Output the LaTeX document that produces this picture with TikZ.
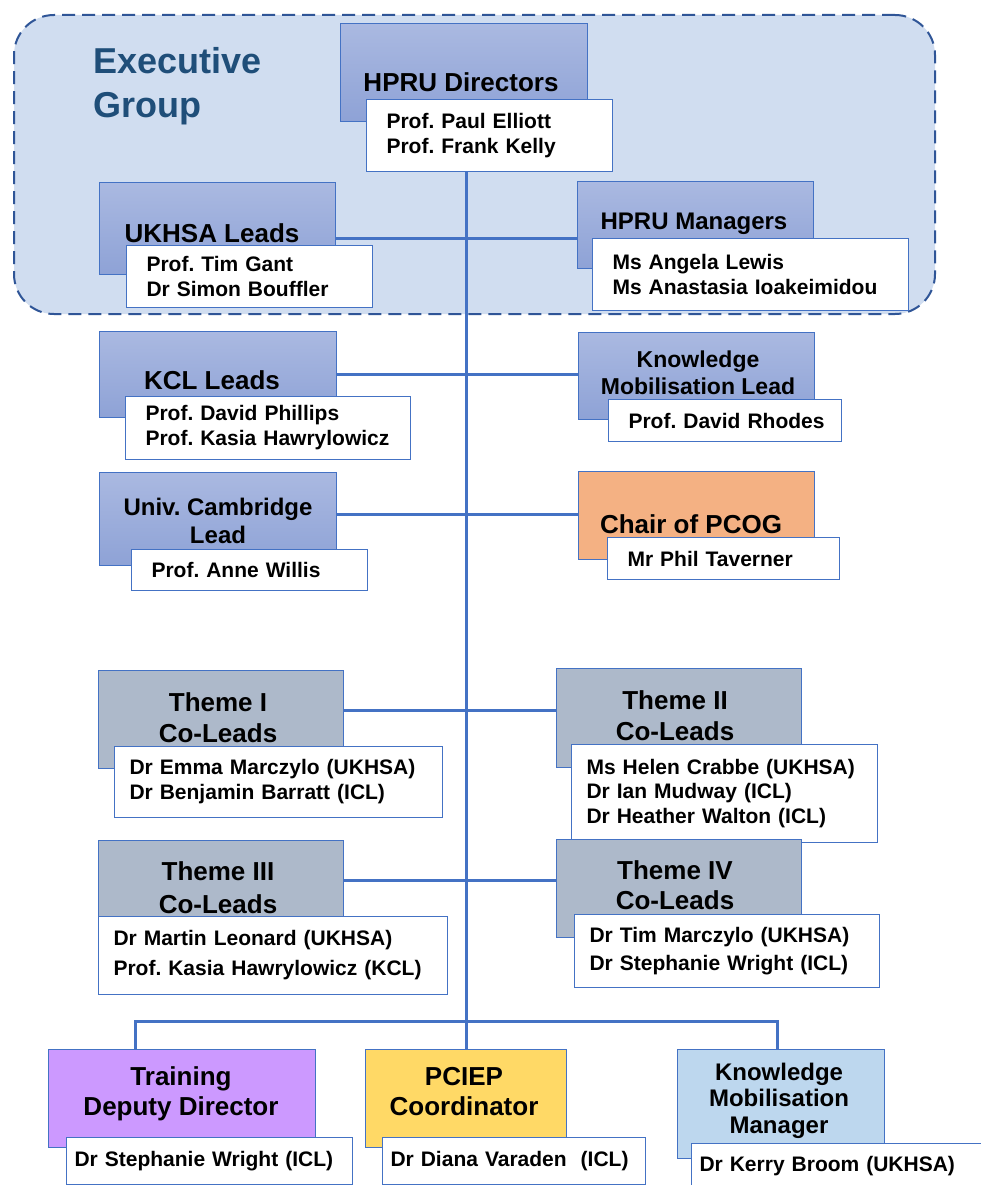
\documentclass[tikz,border=0pt]{standalone}
\usepackage{fontspec}
\setmainfont{Liberation Sans}
\usepackage{tikz}
\frenchspacing

\definecolor{linkblue}{RGB}{68,114,196}
\definecolor{dashblue}{RGB}{47,85,151}
\definecolor{execfill}{RGB}{208,221,240}
\definecolor{exectext}{RGB}{31,78,121}
\definecolor{hdrtop}{RGB}{170,185,225}
\definecolor{hdrbot}{RGB}{142,162,214}
\definecolor{themegrey}{RGB}{173,185,202}
\definecolor{pcogorange}{RGB}{244,177,131}
\definecolor{trainpurple}{RGB}{204,153,255}
\definecolor{pciyellow}{RGB}{255,217,102}
\definecolor{kmmblue}{RGB}{189,215,238}

\tikzset{
  hdr/.style={draw=linkblue, line width=1pt, anchor=north west, inner sep=0pt},
  lead/.style={hdr, top color=hdrtop, bottom color=hdrbot},
  names/.style={draw=linkblue, line width=1pt, fill=white, anchor=north west,
    align=left, inner xsep=20pt, inner ysep=0pt,
    font=\fontsize{21}{25}\selectfont\bfseries},
  ttl/.style={anchor=base, align=center, inner sep=0pt,
    font=\fontsize{26}{31}\selectfont\bfseries},
  link/.style={draw=linkblue, line width=3pt},
}

\begin{document}
\begin{tikzpicture}[x=1pt,y=-1pt]
  \clip (0,0) rectangle (981,1185);
  \fill[white] (0,0) rectangle (981,1185);
  % executive group
  \node[draw=dashblue, line width=2pt, dash pattern=on 13pt off 7pt, fill=execfill,
    rounded corners=40pt, minimum width=921pt, minimum height=299pt,
    anchor=north west, inner sep=0pt] (exec) at (13,14) {};
  \node[anchor=base west, align=left, inner sep=0pt, text=exectext,
    font=\fontsize{36}{44}\selectfont\bfseries] (execT) at (93,118) {Executive\\Group};

  \node[lead, minimum width=247pt, minimum height=98pt] (dir) at (340,23) {};
  \node[ttl] (dirT) at (461,92) {HPRU Directors};
  \node[names, text width=206pt, minimum height=72pt] (dirN) at (366,99)
    {Prof. Paul Elliott\\Prof. Frank Kelly};

  \node[lead, minimum width=236pt, minimum height=92pt] (uk) at (99,182) {};
  \node[ttl] (ukT) at (212,242) {UKHSA Leads};
  \node[names, text width=206pt, minimum height=62pt] (ukN) at (126,245)
    {Prof. Tim Gant\\Dr Simon Bouffler};

  \node[lead, minimum width=236pt, minimum height=87pt] (mgr) at (577,181) {};
  \node[ttl, font=\fontsize{24}{28}\selectfont\bfseries] (mgrT) at (694,229) {HPRU Managers};
  \node[names, text width=276pt, minimum height=72pt] (mgrN) at (592,238)
    {Ms Angela Lewis\\Ms Anastasia Ioakeimidou};

  \node[lead, minimum width=237pt, minimum height=86pt] (kcl) at (99,331) {};
  \node[ttl] (kclT) at (212,389) {KCL Leads};
  \node[names, text width=245pt, minimum height=63pt] (kclN) at (125,396)
    {Prof. David Phillips\\Prof. Kasia Hawrylowicz};

  \node[lead, minimum width=236pt, minimum height=87pt] (kml) at (578,332) {};
  \node[ttl, font=\fontsize{23}{27}\selectfont\bfseries] (kmlT) at (698,394)
    {Knowledge\\Mobilisation Lead};
  \node[names, text width=193pt, minimum height=42pt] (kmlN) at (608,399)
    {\mbox{Prof. David Rhodes}};

  \node[lead, minimum width=237pt, minimum height=93pt] (cam) at (99,472) {};
  \node[ttl, font=\fontsize{24}{28}\selectfont\bfseries] (camT) at (218,543)
    {Univ. Cambridge\\Lead};
  \node[names, text width=196pt, minimum height=41pt] (camN) at (131,549)
    {Prof. Anne Willis};

  \node[hdr, fill=pcogorange, minimum width=236pt, minimum height=88pt] (pcog) at (578,471) {};
  \node[ttl] (pcogT) at (691,533) {Chair of PCOG};
  \node[names, text width=192pt, minimum height=42pt] (pcogN) at (607,537)
    {Mr Phil Taverner};

  % themes
  \node[hdr, fill=themegrey, minimum width=245pt, minimum height=98pt] (t1) at (98,670) {};
  \node[ttl] (t1T) at (218,742) {Theme I\\Co-Leads};
  \node[names, inner xsep=15pt, text width=298pt, minimum height=71pt] (t1N) at (114,746)
    {Dr Emma Marczylo (UKHSA)\\Dr Benjamin Barratt (ICL)};

  \node[hdr, fill=themegrey, minimum width=245pt, minimum height=99pt] (t2) at (556,668) {};
  \node[ttl] (t2T) at (675,740) {Theme II\\Co-Leads};
  \node[names, inner xsep=15pt, text width=276pt, minimum height=98pt,
    font=\fontsize{21}{24.5}\selectfont\bfseries] (t2N) at (571,744)
    {Ms Helen Crabbe (UKHSA)\\Dr Ian Mudway (ICL)\\Dr Heather Walton (ICL)};

  \node[hdr, fill=themegrey, minimum width=245pt, minimum height=77pt] (t3) at (98,840) {};
  \node[ttl, font=\fontsize{26}{33}\selectfont\bfseries] (t3T) at (218,913) {Theme III\\Co-Leads};
  \node[names, inner xsep=15pt, text width=319pt, minimum height=78pt,
    font=\fontsize{21}{30}\selectfont\bfseries] (t3N) at (98,916)
    {Dr Martin Leonard (UKHSA)\\Prof. Kasia Hawrylowicz (KCL)};

  \node[hdr, fill=themegrey, minimum width=245pt, minimum height=98pt] (t4) at (556,839) {};
  \node[ttl, font=\fontsize{26}{30}\selectfont\bfseries] (t4T) at (675,909) {Theme IV\\Co-Leads};
  \node[names, inner xsep=15pt, text width=275pt, minimum height=73pt,
    font=\fontsize{21}{28}\selectfont\bfseries] (t4N) at (574,914)
    {Dr Tim Marczylo (UKHSA)\\Dr Stephanie Wright (ICL)};

  % bottom row
  \node[hdr, fill=trainpurple, minimum width=267pt, minimum height=98pt] (trn) at (48,1049) {};
  \node[ttl, font=\fontsize{26}{30}\selectfont\bfseries] (trnT) at (181,1115)
    {Training\\Deputy Director};
  \node[names, inner xsep=8pt, text width=270pt, minimum height=47pt] (trnN) at (66,1137)
    {Dr Stephanie Wright (ICL)};

  \node[hdr, fill=pciyellow, minimum width=201pt, minimum height=98pt] (pci) at (365,1049) {};
  \node[ttl, font=\fontsize{26}{30}\selectfont\bfseries] (pciT) at (464,1115)
    {PCIEP\\Coordinator};
  \node[names, inner xsep=8pt, text width=247pt, minimum height=47pt] (pciN) at (382,1137)
    {Dr Diana Varaden\ \ (ICL)};

  \node[hdr, fill=kmmblue, minimum width=207pt, minimum height=109pt] (kmm) at (677,1049) {};
  \node[ttl, font=\fontsize{24}{26.5}\selectfont\bfseries] (kmmT) at (779,1133)
    {Knowledge\\Mobilisation\\Manager};
  \node[names, inner xsep=8pt, text width=304pt, minimum height=46pt] (kmmN) at (691,1143)
    {Dr Kerry Broom (UKHSA)};

  % connectors
  \coordinate (hub) at ([yshift=28pt]pci.north);
  \coordinate (r1) at ([yshift=-10pt]uk.east);
  \coordinate (r2) at (kcl.east);
  \coordinate (r3) at ([yshift=5pt]cam.east);
  \coordinate (r4) at ([yshift=9pt]t1.east);
  \coordinate (r5) at ([yshift=-1.5pt]t3.east);
  \draw[link] (dirN.south -| hub) -- (pci.north);
  \draw[link] (r1) -- (r1 -| mgr.west);
  \draw[link] (r2) -- (r2 -| kml.west);
  \draw[link] (r3) -- (r3 -| pcog.west);
  \draw[link] (r4) -- (r4 -| t2.west);
  \draw[link] (r5) -- (r5 -| t4.west);
  \draw[link] ([xshift=-47pt]trn.north) |- (hub) -| ([xshift=-4pt]kmm.north);
\end{tikzpicture}
\end{document}
